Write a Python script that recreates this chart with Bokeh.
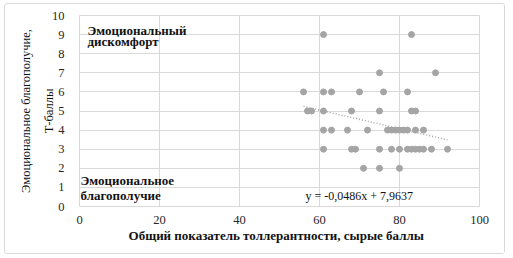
import numpy as np
from bokeh.plotting import figure
from bokeh.models import Range1d, Label, FixedTicker
from bokeh.embed import file_html
from bokeh.resources import INLINE

# data: (tolerance raw score, emotional wellbeing T-score)
y9 = [61, 83]
y7 = [75, 89]
y6 = [56, 61, 63, 70, 76, 82]
y5 = [57, 58, 61, 68, 75, 83, 84]
y4 = [61, 63, 67, 72, 77, 78, 79, 80, 81, 82, 84, 86]
y3 = [61, 68, 69, 75, 78, 80, 82, 83, 84, 85, 86, 88, 92]
y2 = [71, 75, 80]
rows = {9: y9, 7: y7, 6: y6, 5: y5, 4: y4, 3: y3, 2: y2}

xs = [x for k, v in rows.items() for x in v]
ys = [k for k, v in rows.items() for _ in v]

slope = -0.0486
intercept = 7.9637
equation = "y = -0,0486x + 7,9637"

x_ticks = [0, 20, 40, 60, 80, 100]
y_ticks = list(range(0, 11))

x_title = "Общий показатель  толлерантности,  сырые баллы"
y_title = "Эмоциональное благополучие,\nТ-баллы"
zone_top = ["Эмоциональный", "дискомфорт"]
zone_bottom = ["Эмоциональное", "благополучие"]

FONT = "Liberation Serif"
GRAY = "#a5a5a5"
GRID = "#d9d9d9"
TXT = "#111111"

p = figure(width=501, height=251, output_backend="svg", toolbar_location=None,
           x_range=Range1d(0, 100), y_range=Range1d(0, 10),
           min_border_left=74, min_border_right=27, min_border_top=11, min_border_bottom=49)
p.margin = (3, 0, 0, 4)
p.styles = {"border": "1px solid #d9d9d9", "border-radius": "3px", "box-sizing": "border-box"}
p.outline_line_color = GRID
p.background_fill_color = "white"
p.border_fill_color = "white"

p.xaxis.ticker = FixedTicker(ticks=x_ticks)
p.yaxis.ticker = FixedTicker(ticks=y_ticks)
for ax in (p.xaxis, p.yaxis):
    ax.axis_line_color = None
    ax.major_tick_line_color = None
    ax.minor_tick_line_color = None
    ax.major_label_text_font = FONT
    ax.major_label_text_font_size = "12.5px"
    ax.major_label_text_color = "#262626"
    ax.axis_label_text_font = FONT
    ax.axis_label_text_color = TXT
p.xaxis.major_label_standoff = 3
p.yaxis.major_label_standoff = 9
p.xaxis.axis_label = x_title
p.xaxis.axis_label_text_font_style = "bold"
p.xaxis.axis_label_text_font_size = "13px"
p.xaxis.axis_label_standoff = 1
p.yaxis.axis_label = y_title
p.yaxis.axis_label_text_font_style = "normal"
p.yaxis.axis_label_text_font_size = "12.5px"
p.yaxis.axis_label_text_line_height = 1.65
p.yaxis.axis_label_text_align = "center"
p.yaxis.axis_label_standoff = -7

p.xgrid.ticker = FixedTicker(ticks=x_ticks)
p.ygrid.ticker = FixedTicker(ticks=y_ticks)
p.xgrid.grid_line_color = GRID
p.ygrid.grid_line_color = GRID

p.scatter(xs, ys, size=6, color=GRAY)

tx = np.array([min(xs), max(xs)], dtype=float)
p.line(tx, slope * tx + intercept, line_color=GRAY, line_width=1.5, line_dash="1 2")

for txt, yy in zip(zone_top, [9.24, 8.62]):
    p.add_layout(Label(x=2.0, y=yy, text=txt, text_font=FONT, text_font_size="13px",
                       text_baseline="alphabetic", text_color=TXT, text_font_style="bold"))
for txt, yy in zip(zone_bottom, [1.34, 0.55]):
    p.add_layout(Label(x=0.25, y=yy, text=txt, text_font=FONT, text_font_size="13px",
                       text_baseline="alphabetic", text_color=TXT, text_font_style="bold"))
p.add_layout(Label(x=56.5, y=0.55, text=equation, text_font=FONT,
                   text_font_size="12px", text_baseline="middle", text_color=TXT))

open("out.html", "w").write(file_html(p, INLINE))
